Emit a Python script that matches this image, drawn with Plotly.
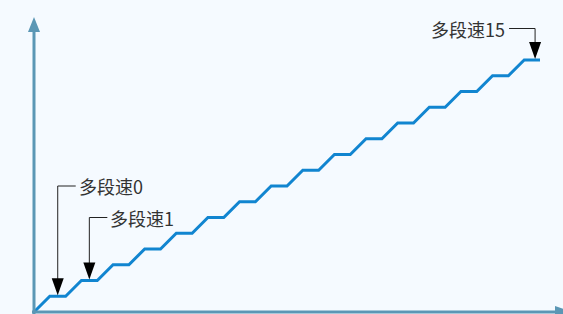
import plotly.graph_objects as go

# ---- data ----
step_x = list(range(33))  # step position index
speed_levels = [0] + [k // 2 + 1 for k in range(0, 32)]  # staircase values (16 levels)
label_texts = ["多段速0", "多段速1", "多段速15"]
label_levels = [0, 1, 15]          # which speed level each label points to
label_heights = [8, 6, 18]         # level of elbow in y units

# ---- geometry (pixel mapping) ----
W, H = 563, 314
ox, oy = 34, 312          # origin pixel
sx = (540 - ox) / 32.0    # px per x unit
sy = (oy - 60) / 16.0     # px per y unit
x_lo = -ox / sx
x_hi = x_lo + W / sx
y_lo = -(H - oy) / sy
y_hi = y_lo + H / sy

def dx(p):
    return p / sx

def dy(p):
    return p / sy

axis_col = "#5b97b5"
line_col = "#1185d0"

fig = go.Figure()
fig.add_trace(go.Scatter(x=step_x, y=speed_levels, mode="lines",
                         line=dict(color=line_col, width=3),
                         hoverinfo="skip", showlegend=False))

shapes = []
# y-axis
tip_y = y_hi - dy(17)
shapes.append(dict(type="line", x0=0, x1=0, y0=y_lo, y1=tip_y - dy(14),
                   line=dict(color=axis_col, width=3), xref="x", yref="y"))
shapes.append(dict(type="path",
                   path=f"M {-dx(6)} {tip_y - dy(15)} L {dx(6)} {tip_y - dy(15)} L 0 {tip_y} Z",
                   fillcolor=axis_col, line=dict(width=0), xref="x", yref="y"))
# x-axis
tip_x = x_lo + dx(572)
shapes.append(dict(type="line", x0=-dx(2), x1=tip_x - dx(15), y0=0, y1=0,
                   line=dict(color=axis_col, width=3), xref="x", yref="y"))
shapes.append(dict(type="path",
                   path=f"M {tip_x - dx(17)} {-dy(6)} L {tip_x - dx(17)} {dy(6)} L {tip_x} 0 Z",
                   fillcolor=axis_col, line=dict(width=0), xref="x", yref="y"))

annotations = []
for txt, lvl, hgt in zip(label_texts, label_levels, label_heights):
    ax_x = 2 * lvl + 1.5 + (dx(3) if lvl == 15 else 0)
    tip = lvl + 1 + dy(1)
    # vertical line
    shapes.append(dict(type="line", x0=ax_x, x1=ax_x, y0=hgt, y1=tip + dy(10),
                       line=dict(color="#222222", width=1), xref="x", yref="y"))
    # arrowhead
    shapes.append(dict(type="path",
                       path=f"M {ax_x - dx(6)} {tip + dy(17)} L {ax_x + dx(6)} {tip + dy(17)} L {ax_x} {tip} Z",
                       fillcolor="#000000", line=dict(width=0), xref="x", yref="y"))
    if lvl == 15:
        # text to the left
        shapes.append(dict(type="line", x0=ax_x - dx(26), x1=ax_x, y0=hgt, y1=hgt,
                           line=dict(color="#222222", width=1), xref="x", yref="y"))
        annotations.append(dict(x=ax_x - dx(28), y=hgt, text=txt, showarrow=False,
                                xanchor="right", yanchor="middle", xref="x", yref="y",
                                font=dict(family="Noto Sans CJK SC", size=18, color="#333333")))
    else:
        shapes.append(dict(type="line", x0=ax_x, x1=ax_x + dx(18), y0=hgt, y1=hgt,
                           line=dict(color="#222222", width=1), xref="x", yref="y"))
        annotations.append(dict(x=ax_x + dx(19), y=hgt, text=txt, showarrow=False,
                                xanchor="left", yanchor="middle", xref="x", yref="y",
                                font=dict(family="Noto Sans CJK SC", size=18, color="#333333")))

fig.update_layout(
    width=W, height=H,
    margin=dict(l=0, r=0, t=0, b=0),
    paper_bgcolor="#f5faff", plot_bgcolor="#f5faff",
    xaxis=dict(range=[x_lo, x_hi], visible=False, fixedrange=True),
    yaxis=dict(range=[y_lo, y_hi], visible=False, fixedrange=True),
    shapes=shapes, annotations=annotations,
)
fig.write_html("out.html", config={"displayModeBar": False},
               post_script="document.body.style.margin='0';document.body.style.background='#f5faff';")
